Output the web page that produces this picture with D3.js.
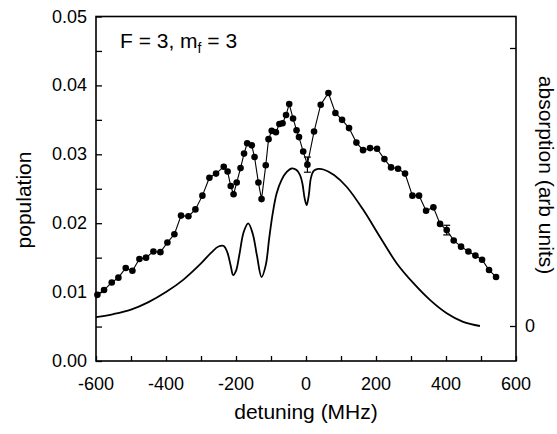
<!DOCTYPE html>
<html>
<head>
<meta charset="utf-8">
<script src="https://cdn.jsdelivr.net/npm/d3@7"></script>
<style>
  html, body { margin: 0; padding: 0; background: #fff; }
  svg { display: block; }
  text { font-family: "Liberation Sans", Arial, Helvetica, sans-serif; fill: #000; }
</style>
</head>
<body>
<svg id="chart" width="557" height="434"></svg>
<script>
// ---- data ----
const pointDetuning = [-596,-577,-555,-536,-515,-496,-476,-457,-436,-416,-396,-376,-357,-336,-316,-296,-276,-257,-235,-224,-215,-207,-198,-187,-177,-168,-155,-147,-136,-127,-115,-107,-98,-86,-76,-67,-57,-48,-37,-27,-20,-8,4,23,42,64,84,103,123,144,163,183,203,224,243,263,283,304,323,343,364,383,402,422,443,464,484,503,523,543];
const population = [0.0096,0.0103,0.0114,0.0121,0.0135,0.0131,0.0148,0.0150,0.0159,0.0158,0.0172,0.0184,0.0211,0.0210,0.0220,0.0240,0.0266,0.0272,0.0282,0.0275,0.0254,0.0242,0.0259,0.0280,0.0301,0.0316,0.0313,0.0296,0.0259,0.0235,0.0284,0.0322,0.0334,0.0332,0.0344,0.0345,0.0357,0.0373,0.0352,0.0335,0.0325,0.0304,0.0285,0.0333,0.0372,0.0389,0.0360,0.0350,0.0338,0.0317,0.0306,0.0309,0.0308,0.0293,0.0281,0.0279,0.0272,0.0240,0.0240,0.0218,0.0223,0.0199,0.0190,0.0175,0.0166,0.0159,0.0153,0.0147,0.0132,0.0122];

const errDetuning = [4, 402];
const errValue = [0.0011, 0.0007];

const curveDetuning = [-600,-550,-500,-450,-400,-350,-300,-270,-250,-235,-225,-215,-208,-200,-190,-178,-165,-152,-140,-127,-115,-105,-95,-84,-70,-55,-40,-27,-17,-10,-4,2,8,14,22,35,50,80,116,164,211,259,307,354,402,449,497];
const absorption = [0.032,0.043,0.059,0.086,0.122,0.167,0.225,0.265,0.286,0.288,0.266,0.216,0.183,0.198,0.259,0.338,0.369,0.331,0.252,0.176,0.219,0.317,0.406,0.477,0.525,0.554,0.567,0.561,0.543,0.511,0.460,0.435,0.471,0.532,0.558,0.565,0.563,0.543,0.501,0.417,0.321,0.226,0.154,0.094,0.046,0.015,0.000];

const xTicks = [-600,-500,-400,-300,-200,-100,0,100,200,300,400,500,600];
const xTickLabels = [-600,-400,-200,0,200,400,600];
const yTicks = [0,0.005,0.01,0.015,0.02,0.025,0.03,0.035,0.04,0.045,0.05];
const yTickLabels = [0,0.01,0.02,0.03,0.04,0.05];
const rightTicks = [0, 1];
const rightTickLabels = [0];

// ---- layout ----
const L = 96, R = 516, T = 16.5, B = 361;
const svg = d3.select("#chart");

const x = d3.scaleLinear().domain([-600, 600]).range([L, R]);
const y = d3.scaleLinear().domain([0, 0.05]).range([B, T]);
const y2 = d3.scaleLinear().domain([0, 1]).range([326, 48]);

// frame
svg.append("rect").attr("x", L).attr("y", T).attr("width", R - L).attr("height", B - T)
  .attr("fill", "none").attr("stroke", "#000").attr("stroke-width", 1.6);

// bottom axis ticks (inward)
const xAxis = d3.axisBottom(x).tickValues(xTicks).tickSize(-5).tickFormat("");
const gx = svg.append("g").attr("transform", `translate(0,${B})`).call(xAxis);
gx.select(".domain").remove();
gx.selectAll("line").attr("stroke", "#000").attr("stroke-width", 1.3);
svg.append("g").selectAll("text").data(xTickLabels).join("text")
  .attr("x", d => x(d)).attr("y", B + 29).attr("text-anchor", "middle")
  .attr("font-size", 18).text(d => d);

// left axis ticks (inward)
const yAxis = d3.axisLeft(y).tickValues(yTicks).tickSize(-6).tickFormat("");
const gy = svg.append("g").attr("transform", `translate(${L},0)`).call(yAxis);
gy.select(".domain").remove();
gy.selectAll("line").attr("stroke", "#000").attr("stroke-width", 1.3);
svg.append("g").selectAll("text").data(yTickLabels).join("text")
  .attr("x", L - 9).attr("y", d => y(d) + 6).attr("text-anchor", "end")
  .attr("font-size", 18).text(d => d3.format(".2f")(d));

// right axis ticks (inward)
const y2Axis = d3.axisRight(y2).tickValues(rightTicks).tickSize(-6).tickFormat("");
const gy2 = svg.append("g").attr("transform", `translate(${R},0)`).call(y2Axis);
gy2.select(".domain").remove();
gy2.selectAll("line").attr("stroke", "#000").attr("stroke-width", 1.3);
svg.append("g").selectAll("text").data(rightTickLabels).join("text")
  .attr("x", R + 9).attr("y", d => y2(d) + 6).attr("text-anchor", "start")
  .attr("font-size", 18).text(d => d);

// absorption curve
const curvePts = curveDetuning.map((d, i) => [d, absorption[i]]);
svg.append("path").datum(curvePts)
  .attr("d", d3.line().x(d => x(d[0])).y(d => y2(d[1])).curve(d3.curveCatmullRom.alpha(0.5)))
  .attr("fill", "none").attr("stroke", "#000").attr("stroke-width", 1.8);

// population data
const pts = pointDetuning.map((d, i) => [d, population[i]]);
svg.append("path").datum(pts)
  .attr("d", d3.line().x(d => x(d[0])).y(d => y(d[1])))
  .attr("fill", "none").attr("stroke", "#000").attr("stroke-width", 1.1);

// error bars
errDetuning.forEach((d, k) => {
  const i = pointDetuning.indexOf(d);
  const v = population[i];
  const g = svg.append("g").attr("stroke", "#000").attr("stroke-width", 1.2);
  g.append("line").attr("x1", x(d)).attr("x2", x(d)).attr("y1", y(v - errValue[k])).attr("y2", y(v + errValue[k]));
  g.append("line").attr("x1", x(d) - 3.5).attr("x2", x(d) + 3.5).attr("y1", y(v - errValue[k])).attr("y2", y(v - errValue[k]));
  g.append("line").attr("x1", x(d) - 3.5).attr("x2", x(d) + 3.5).attr("y1", y(v + errValue[k])).attr("y2", y(v + errValue[k]));
});

svg.append("g").selectAll("circle").data(pts).join("circle")
  .attr("cx", d => x(d[0])).attr("cy", d => y(d[1])).attr("r", 3.3).attr("fill", "#000");

// title
const title = svg.append("text").attr("x", 120).attr("y", 47.5).attr("font-size", 21);
title.append("tspan").text("F = 3, m");
title.append("tspan").attr("font-size", 14).attr("dy", 5).text("f");
title.append("tspan").attr("dy", -5).text(" = 3");

// axis titles
svg.append("text").attr("x", x(0)).attr("y", 419).attr("text-anchor", "middle")
  .attr("font-size", 21).text("detuning (MHz)");
svg.append("text").attr("transform", "translate(31,200) rotate(-90)").attr("text-anchor", "middle")
  .attr("font-size", 21).text("population");
svg.append("text").attr("transform", "translate(539,175) rotate(90)").attr("text-anchor", "middle")
  .attr("font-size", 21).text("absorption (arb units)");
</script>
</body>
</html>
